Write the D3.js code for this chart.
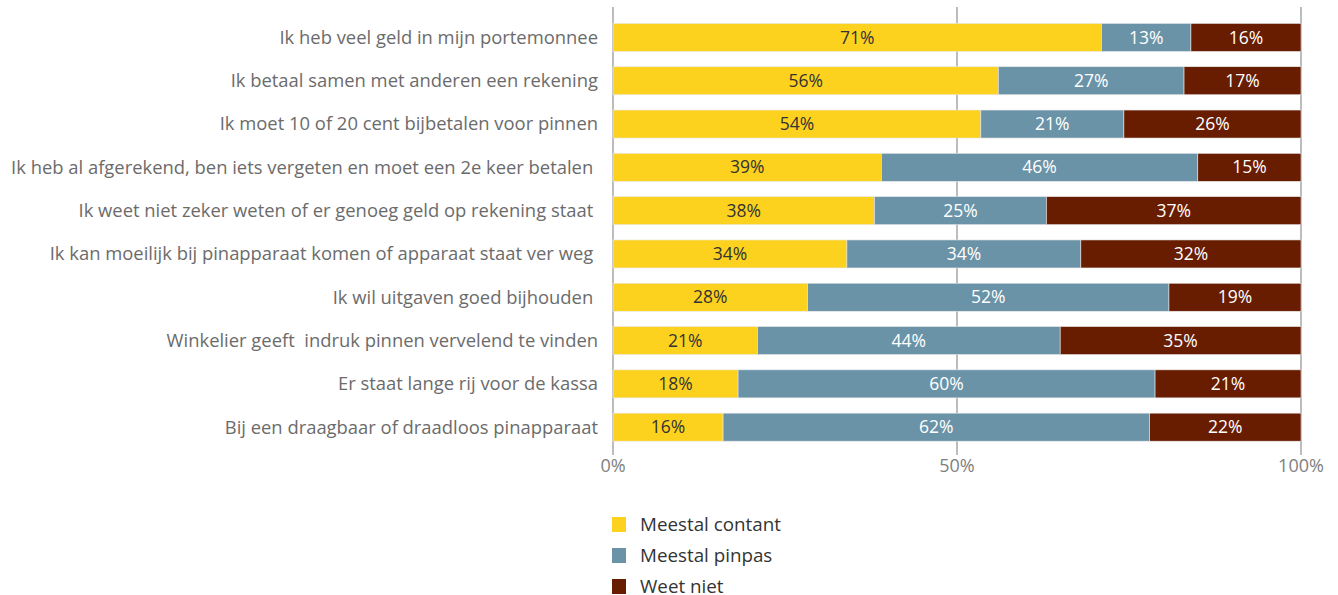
<!DOCTYPE html>
<html>
<head>
<meta charset="utf-8">
<script src="https://cdn.jsdelivr.net/npm/d3@7"></script>
<style>
  body { margin: 0; background: #fff; }
  svg text { font-family: "Open Sans", sans-serif; white-space: pre; }
</style>
</head>
<body>
<div id="chart"></div>
<script>
var categories = [
  "Ik heb veel geld in mijn portemonnee",
  "Ik betaal samen met anderen een rekening",
  "Ik moet 10 of 20 cent bijbetalen voor pinnen",
  "Ik heb al afgerekend, ben iets vergeten en moet een 2e keer betalen ",
  "Ik weet niet zeker weten of er genoeg geld op rekening staat ",
  "Ik kan moeilijk bij pinapparaat komen of apparaat staat ver weg ",
  "Ik wil uitgaven goed bijhouden ",
  "Winkelier geeft  indruk pinnen vervelend te vinden",
  "Er staat lange rij voor de kassa",
  "Bij een draagbaar of draadloos pinapparaat"
];
var contant = [71, 56, 54, 39, 38, 34, 28, 21, 18, 16];
var pinpas  = [13, 27, 21, 46, 25, 34, 52, 44, 60, 62];
var weetNiet = [16, 17, 26, 15, 37, 32, 19, 35, 21, 22];
var seriesNames = ["Meestal contant", "Meestal pinpas", "Weet niet"];
var seriesColors = ["#fdd21f", "#6a93a8", "#681c00"];
var textColors = ["#333333", "#ffffff", "#ffffff"];
var ticks = [0, 50, 100];

var width = 1338, height = 595;
var svg = d3.select("#chart").append("svg")
  .attr("width", width)
  .attr("height", height);

var x = d3.scaleLinear().domain([0, 100]).range([613, 1301]);
var y = d3.scaleBand().domain(categories).range([15.8, 448.8]).paddingInner(0.353).paddingOuter(0.176);

var rows = categories.map(function(c, i) {
  var total = contant[i] + pinpas[i] + weetNiet[i];
  return { cat: c, vals: [contant[i], pinpas[i], weetNiet[i]], total: total };
});

// gridlines
svg.selectAll(".grid").data(ticks).enter().append("line")
  .attr("x1", function(d) { return x(d) }).attr("x2", function(d) { return x(d) })
  .attr("y1", 7).attr("y2", 455)
  .attr("stroke", "#9a9a9a").attr("stroke-width", 1.3);

// bars
rows.forEach(function(r) {
  var acc = 0;
  r.vals.forEach(function(v, k) {
    var x0 = x(acc / r.total * 100);
    acc += v;
    var x1 = x(acc / r.total * 100);
    svg.append("rect")
      .attr("x", x0).attr("y", y(r.cat))
      .attr("width", x1 - x0).attr("height", y.bandwidth())
      .attr("fill", seriesColors[k])
      .attr("stroke", "#e8e8e8").attr("stroke-width", 0.6);
    svg.append("text")
      .attr("x", (x0 + x1) / 2).attr("y", y(r.cat) + y.bandwidth() / 2)
      .attr("dy", "0.35em")
      .attr("text-anchor", "middle")
      .attr("font-size", 17.5)
      .attr("fill", textColors[k])
      .text(v + "%");
  });
});

// category labels
svg.selectAll(".cat").data(categories).enter().append("text")
  .attr("x", 598)
  .attr("y", function(d) { return y(d) + y.bandwidth() / 2 })
  .attr("dy", "0.35em")
  .attr("text-anchor", "end")
  .attr("font-size", 18.4)
  .attr("fill", "#6b6b6b")
  .text(function(d) { return d });

// x tick labels
svg.selectAll(".tick").data(ticks).enter().append("text")
  .attr("x", function(d) { return x(d) })
  .attr("y", 466)
  .attr("dy", "0.35em")
  .attr("text-anchor", "middle")
  .attr("font-size", 18)
  .attr("fill", "#808080")
  .text(function(d) { return d + "%" });

// legend
var legend = svg.selectAll(".legend").data(seriesNames).enter().append("g")
  .attr("transform", function(d, i) { return "translate(612," + (524.5 + i * 31) + ")" });
legend.append("rect")
  .attr("x", 0).attr("y", -7.5).attr("width", 14).attr("height", 15)
  .attr("fill", function(d, i) { return seriesColors[i] });
legend.append("text")
  .attr("x", 28).attr("y", 0).attr("dy", "0.35em")
  .attr("font-size", 18.8)
  .attr("fill", "#333")
  .text(function(d) { return d });
</script>
</body>
</html>
